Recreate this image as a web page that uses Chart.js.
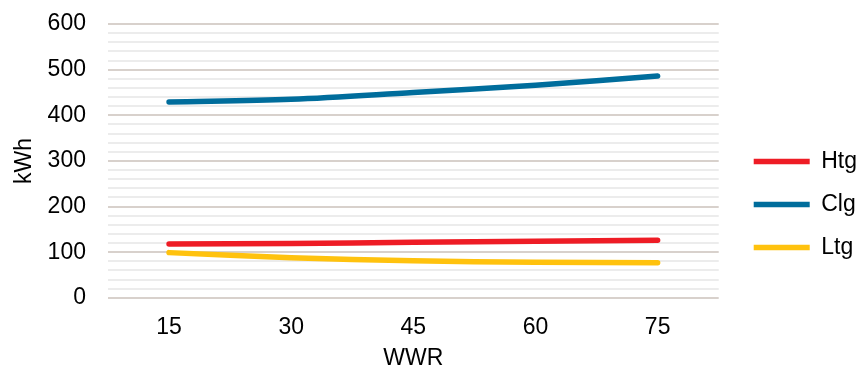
<!DOCTYPE html>
<html>
<head>
<meta charset="utf-8">
<script src="https://cdn.jsdelivr.net/npm/chart.js@4.4.1/dist/chart.umd.min.js"></script>
<style>
  html, body { margin: 0; padding: 0; background: #fff; }
  #wrap { width: 858px; height: 376px; }
</style>
</head>
<body>
<div id="wrap"><canvas id="c" width="858" height="376"></canvas></div>
<script>
// Window-to-wall ratio steps (%)
const wwr = ['15', '30', '45', '60', '75'];

// Annual energy by end use (kWh)
const heating  = [118, 119, 121.5, 124, 126];
const cooling  = [429, 435, 450, 466, 486];
const lighting = [99, 88, 81, 78, 77];

const seriesNames = ['Htg', 'Clg', 'Ltg'];
const seriesColors = ['#ee1c25', '#006d9c', '#ffc20e'];

const FONT = { family: '"Liberation Sans", Arial, Helvetica, sans-serif', size: 23 };
const INK = '#000000';

function lineSet(label, data, color) {
  return {
    label,
    data,
    borderColor: color,
    backgroundColor: color,
    borderWidth: 5.5,
    borderCapStyle: 'round',
    borderJoinStyle: 'round',
    pointRadius: 0,
    pointHoverRadius: 0,
    tension: 0.35,
    fill: false
  };
}

new Chart(document.getElementById('c'), {
  type: 'line',
  data: {
    labels: wwr,
    datasets: [
      lineSet(seriesNames[0], heating, seriesColors[0]),
      lineSet(seriesNames[1], cooling, seriesColors[1]),
      lineSet(seriesNames[2], lighting, seriesColors[2])
    ]
  },
  options: {
    responsive: false,
    animation: false,
    devicePixelRatio: 1,
    layout: { padding: { top: 24, right: -9, bottom: 4, left: 8 } },
    plugins: {
      tooltip: { enabled: false },
      legend: {
        position: 'right',
        align: 'center',
        title: { display: true, text: ' ', padding: { top: 12, bottom: 0 }, font: { size: 1 } },
        labels: {
          usePointStyle: true,
          pointStyle: 'line',
          pointStyleWidth: 56,
          padding: 20,
          color: INK,
          font: FONT
        }
      }
    },
    scales: {
      x: {
        offset: true,
        grid: { display: false, drawTicks: true, tickLength: 13 },
        border: { display: false },
        ticks: { color: INK, font: FONT, padding: 3 },
        title: { display: true, text: 'WWR', color: INK, font: FONT, padding: { top: 0, bottom: 0 } }
      },
      y: {
        min: 0,
        max: 600,
        grid: {
          drawTicks: true,
          tickLength: 18,
          tickColor: 'rgba(0,0,0,0)',
          lineWidth: 2,
          color: (ctx) => (ctx.tick && ctx.tick.value % 100 === 0) ? '#d8d1cc' : '#ececec'
        },
        border: { display: false },
        ticks: {
          stepSize: 20,
          autoSkip: false,
          color: INK,
          font: FONT,
          padding: 4,
          callback: (v) => (v % 100 === 0 ? String(v) : '')
        },
        title: { display: true, text: 'kWh', color: INK, font: FONT, padding: { top: 3, bottom: 5 } }
      },
      // empty gutter between the plot and the legend
      gutter: {
        type: 'linear',
        position: 'right',
        display: true,
        grid: { display: false, drawTicks: false },
        border: { display: false },
        ticks: { display: false },
        afterFit: (scale) => { scale.width = 15; }
      }
    }
  }
});
</script>
</body>
</html>
